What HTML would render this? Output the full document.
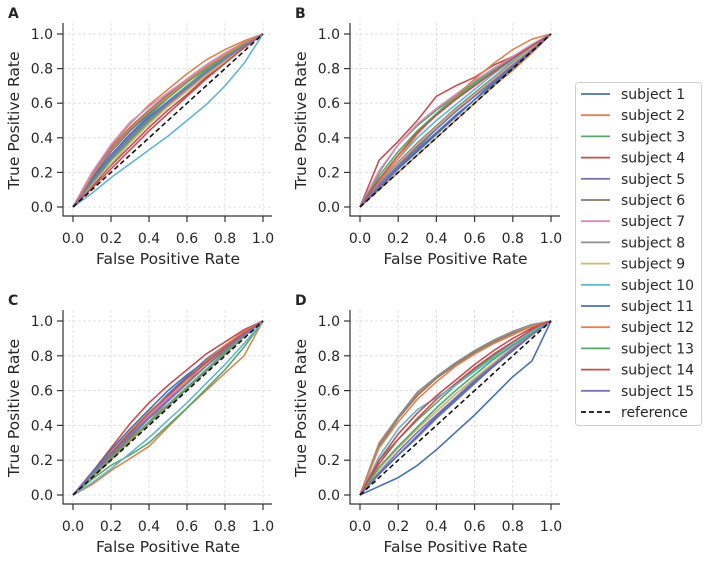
<!DOCTYPE html>
<html><head><meta charset="utf-8"><style>
body{margin:0;background:#fff;font-family:"Liberation Sans","DejaVu Sans",sans-serif;}
svg text{font-family:"DejaVu Sans","Liberation Sans",sans-serif;fill:#262626;}
</style></head><body>
<svg id="fig" width="708" height="556" viewBox="0 0 708 556" xmlns="http://www.w3.org/2000/svg"></svg>
<script>
const fprGrid=[0,0.1,0.2,0.3,0.4,0.5,0.6,0.7,0.8,0.9,1];
const tickLabels=["0.0","0.2","0.4","0.6","0.8","1.0"];
const tickValues=[0,0.2,0.4,0.6,0.8,1];
const subjectNames=["subject 1","subject 2","subject 3","subject 4","subject 5","subject 6","subject 7","subject 8","subject 9","subject 10","subject 11","subject 12","subject 13","subject 14","subject 15"];
const colors=["#4c72b0","#dd8452","#55a868","#c44e52","#8172b3","#937860","#da8bc3","#8c8c8c","#ccb974","#64b5cd","#4c72b0","#dd8452","#55a868","#c44e52","#8172b3"];
const panelA=[
[0,0.17,0.32,0.44,0.54,0.63,0.72,0.8,0.87,0.94,1],
[0,0.2,0.35,0.48,0.59,0.68,0.77,0.85,0.91,0.96,1],
[0,0.16,0.3,0.42,0.53,0.63,0.72,0.8,0.87,0.94,1],
[0,0.12,0.24,0.35,0.46,0.56,0.65,0.75,0.84,0.92,1],
[0,0.15,0.28,0.4,0.51,0.61,0.7,0.78,0.86,0.93,1],
[0,0.19,0.34,0.46,0.56,0.65,0.74,0.82,0.89,0.95,1],
[0,0.2,0.36,0.49,0.58,0.66,0.74,0.82,0.89,0.95,1],
[0,0.14,0.27,0.38,0.49,0.59,0.68,0.77,0.85,0.93,1],
[0,0.13,0.25,0.37,0.48,0.58,0.67,0.76,0.84,0.92,1],
[0,0.08,0.17,0.25,0.33,0.41,0.5,0.59,0.7,0.83,1],
[0,0.16,0.3,0.42,0.52,0.61,0.7,0.78,0.86,0.93,1],
[0,0.18,0.33,0.45,0.55,0.64,0.73,0.81,0.88,0.95,1],
[0,0.14,0.27,0.39,0.5,0.6,0.7,0.79,0.86,0.93,1],
[0,0.11,0.22,0.33,0.44,0.54,0.64,0.74,0.83,0.92,1],
[0,0.15,0.29,0.41,0.51,0.6,0.69,0.78,0.86,0.93,1]];
const panelB=[
[0,0.12,0.23,0.33,0.43,0.53,0.62,0.71,0.8,0.9,1],
[0,0.1,0.2,0.3,0.4,0.5,0.6,0.7,0.79,0.89,1],
[0,0.2,0.36,0.47,0.56,0.64,0.72,0.8,0.87,0.94,1],
[0,0.27,0.38,0.5,0.64,0.7,0.75,0.82,0.87,0.93,1],
[0,0.12,0.22,0.32,0.42,0.52,0.62,0.72,0.81,0.9,1],
[0,0.13,0.24,0.34,0.45,0.55,0.64,0.73,0.82,0.91,1],
[0,0.21,0.36,0.48,0.57,0.65,0.73,0.8,0.87,0.94,1],
[0,0.14,0.26,0.37,0.47,0.57,0.66,0.75,0.84,0.92,1],
[0,0.13,0.25,0.36,0.46,0.56,0.65,0.74,0.83,0.92,1],
[0,0.15,0.28,0.4,0.5,0.59,0.68,0.77,0.85,0.93,1],
[0,0.11,0.22,0.32,0.42,0.52,0.62,0.72,0.81,0.9,1],
[0,0.15,0.28,0.42,0.54,0.64,0.74,0.83,0.91,0.97,1],
[0,0.18,0.32,0.44,0.54,0.63,0.71,0.79,0.86,0.93,1],
[0,0.16,0.3,0.43,0.53,0.62,0.7,0.78,0.86,0.93,1],
[0,0.13,0.24,0.35,0.45,0.55,0.64,0.73,0.82,0.91,1]];
const panelC=[
[0,0.12,0.24,0.36,0.47,0.58,0.68,0.78,0.86,0.94,1],
[0,0.06,0.14,0.21,0.28,0.39,0.5,0.6,0.7,0.8,1],
[0,0.09,0.17,0.23,0.3,0.4,0.5,0.61,0.72,0.85,1],
[0,0.13,0.27,0.41,0.53,0.63,0.72,0.81,0.88,0.95,1],
[0,0.12,0.24,0.35,0.45,0.55,0.65,0.75,0.84,0.93,1],
[0,0.11,0.22,0.33,0.44,0.54,0.64,0.74,0.83,0.92,1],
[0,0.13,0.25,0.36,0.46,0.56,0.66,0.76,0.85,0.93,1],
[0,0.11,0.21,0.31,0.41,0.51,0.61,0.71,0.81,0.91,1],
[0,0.12,0.25,0.37,0.48,0.57,0.66,0.75,0.84,0.92,1],
[0,0.07,0.15,0.24,0.33,0.43,0.53,0.64,0.75,0.87,1],
[0,0.13,0.26,0.38,0.49,0.6,0.69,0.77,0.85,0.93,1],
[0,0.1,0.2,0.31,0.42,0.54,0.65,0.77,0.86,0.94,1],
[0,0.11,0.21,0.32,0.42,0.52,0.62,0.72,0.82,0.92,1],
[0,0.12,0.24,0.36,0.47,0.57,0.67,0.76,0.85,0.93,1],
[0,0.12,0.23,0.34,0.44,0.54,0.64,0.74,0.84,0.92,1]];
const panelD=[
[0,0.05,0.1,0.17,0.26,0.36,0.46,0.57,0.68,0.77,1],
[0,0.3,0.45,0.58,0.67,0.75,0.82,0.88,0.93,0.97,1],
[0,0.2,0.32,0.43,0.53,0.63,0.72,0.8,0.88,0.95,1],
[0,0.18,0.32,0.44,0.55,0.64,0.73,0.81,0.88,0.95,1],
[0,0.12,0.23,0.33,0.44,0.54,0.64,0.74,0.83,0.92,1],
[0,0.28,0.44,0.57,0.67,0.75,0.82,0.88,0.93,0.97,1],
[0,0.15,0.27,0.38,0.48,0.58,0.67,0.76,0.85,0.93,1],
[0,0.29,0.45,0.59,0.68,0.76,0.83,0.89,0.94,0.98,1],
[0,0.15,0.27,0.38,0.48,0.58,0.67,0.76,0.84,0.92,1],
[0,0.22,0.38,0.49,0.56,0.63,0.71,0.79,0.87,0.94,1],
[0,0.12,0.23,0.34,0.45,0.55,0.65,0.74,0.83,0.92,1],
[0,0.27,0.42,0.55,0.65,0.74,0.81,0.87,0.92,0.97,1],
[0,0.16,0.28,0.39,0.5,0.6,0.69,0.78,0.86,0.93,1],
[0,0.2,0.35,0.47,0.57,0.66,0.75,0.83,0.9,0.96,1],
[0,0.13,0.25,0.36,0.46,0.56,0.66,0.75,0.84,0.92,1]];
const refLine=[0,1];

const NS="http://www.w3.org/2000/svg";
const svg=document.getElementById('fig');
function mk(tag,attrs,parent){const e=document.createElementNS(NS,tag);for(const k in attrs)e.setAttribute(k,attrs[k]);(parent||svg).appendChild(e);return e;}
const panels=[
 {id:"a",letter:"A",data:panelA,x0:73,x1:263,y0:207,y1:34},
 {id:"b",letter:"B",data:panelB,x0:360,x1:551,y0:207,y1:34},
 {id:"c",letter:"C",data:panelC,x0:73,x1:263,y0:495,y1:321},
 {id:"d",letter:"D",data:panelD,x0:360,x1:551,y0:495,y1:321}];
panels.forEach(p=>{
 const sx=v=>p.x0+v*(p.x1-p.x0), sy=v=>p.y0+v*(p.y1-p.y0);
 const g=mk('g',{});
 
 
 const L=p.x0-10,B=p.y0+9,T=p.y1-11,R=p.x1+9;
 tickValues.forEach((v,i)=>{
  const gx=mk('line',{x1:sx(v),x2:sx(v),y1:T,y2:B,stroke:"#d9d9d9","stroke-width":0.8,"stroke-dasharray":"3,2"},g);
  
  
  const gy=mk('line',{x1:L,x2:R,y1:sy(v),y2:sy(v),stroke:"#d9d9d9","stroke-width":0.8,"stroke-dasharray":"3,2"},g);
  
  
  mk('line',{x1:sx(v),x2:sx(v),y1:B,y2:B+6,stroke:"#333","stroke-width":1.2},g);
  mk('line',{x1:L-6,x2:L,y1:sy(v),y2:sy(v),stroke:"#333","stroke-width":1.2},g);
  const xt=mk('text',{x:sx(v),y:B+27,"font-size":14,"text-anchor":"middle"},g);xt.textContent=tickLabels[i];
  
  
  const yt=mk('text',{x:L-10,y:sy(v)+5,"font-size":14,"text-anchor":"end"},g);yt.textContent=tickLabels[i];
  
  
 });
 mk('path',{d:`M${L},${T}V${B}H${R}`,fill:"none",stroke:"#333","stroke-width":1.2},g);
 p.data.forEach((arr,si)=>{
  const d=arr.map((v,i)=>(i?'L':'M')+sx(fprGrid[i]).toFixed(1)+','+sy(v).toFixed(1)).join('');
  const c=mk('path',{d:d,fill:"none",stroke:colors[si],"stroke-width":1.6,"stroke-linejoin":"round"},g);
  
  
 });
 const r=mk('line',{x1:sx(refLine[0]),y1:sy(refLine[0]),x2:sx(refLine[1]),y2:sy(refLine[1]),stroke:"#111","stroke-width":1.6,"stroke-dasharray":"5,3"},g);
 
 
 const xl=mk('text',{x:(p.x0+p.x1)/2,y:B+48,"font-size":15.5,"text-anchor":"middle"},g);xl.textContent="False Positive Rate";
 
 
 const yx=L-44,yy=(p.y0+p.y1)/2;
 const yl=mk('text',{x:yx,y:yy,"font-size":15.5,"text-anchor":"middle",transform:`rotate(-90 ${yx} ${yy})`},g);yl.textContent="True Positive Rate";
 
 
 const pl=mk('text',{x:L-55,y:T-5,"font-size":14,"font-weight":"bold"},g);pl.textContent=p.letter;
 
 
});
// legend
const lg=mk('g',{});


mk('rect',{x:575.5,y:82.5,width:126,height:343,rx:3,fill:"#fff",stroke:"#d0d0d0","stroke-width":1},lg);
const labels=subjectNames.concat(["reference"]);
labels.forEach((t,i)=>{
 const y=94+i*21.2;
 const ln=mk('line',{x1:581,x2:610,y1:y,y2:y,stroke:i<15?colors[i]:"#111","stroke-width":1.8,"stroke-dasharray":i<15?"none":"5,3"},lg);
 
 
 const tx=mk('text',{x:621,y:y+5,"font-size":14},lg);tx.textContent=t;
 
 
});
</script>
</body></html>
